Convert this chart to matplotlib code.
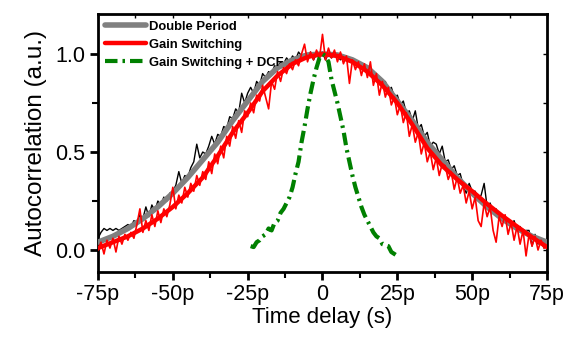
import numpy as np
import matplotlib
matplotlib.use("Agg")
import matplotlib.pyplot as plt
from matplotlib.ticker import FuncFormatter, MultipleLocator

# Autocorrelation traces (delay in ps)

X_SMOOTH = [-75, -70, -65, -60, -55, -50, -45, -40, -35, -30, -25, -20, -15, -10, -5, 0,
            5, 10, 15, 20, 25, 30, 35, 40, 45, 50, 55, 60, 65, 70, 75]
DOBLE_PERIODO = [0.04, 0.07, 0.11, 0.16, 0.22, 0.29, 0.37, 0.46, 0.55, 0.66, 0.76, 0.86, 0.93, 0.97, 0.995, 1.0,
                 0.995, 0.97, 0.93, 0.86, 0.76, 0.66, 0.55, 0.46, 0.37, 0.29, 0.22, 0.16, 0.11, 0.07, 0.04]
GAIN_SW_AJUSTE = [0.01, 0.04, 0.07, 0.11, 0.16, 0.22, 0.29, 0.37, 0.48, 0.60, 0.70, 0.81, 0.89, 0.95, 0.985, 1.0,
                  0.99, 0.96, 0.91, 0.84, 0.75, 0.64, 0.52, 0.43, 0.36, 0.30, 0.235, 0.175, 0.12, 0.065, 0.015]

X_RUIDO = list(range(-75, 76))
NEGRO_MEDIDO = [
    0.06, 0.09, 0.11, 0.10, 0.11, 0.10, 0.11, 0.10, 0.11, 0.12,
    0.13, 0.12, 0.15, 0.14, 0.18, 0.16, 0.22, 0.17, 0.23, 0.20,
    0.25, 0.23, 0.27, 0.25, 0.29, 0.30, 0.33, 0.40, 0.34, 0.38,
    0.37, 0.42, 0.45, 0.54, 0.47, 0.50, 0.49, 0.53, 0.58, 0.54,
    0.59, 0.58, 0.63, 0.62, 0.68, 0.67, 0.72, 0.70, 0.80, 0.75,
    0.80, 0.83, 0.80, 0.86, 0.84, 0.90, 0.88, 0.91, 0.90, 0.94,
    0.93, 0.96, 0.95, 0.98, 0.96, 0.99, 0.97, 1.01, 0.99, 1.00,
    0.98, 1.01, 0.97, 1.00, 0.98, 1.01, 0.97, 1.00, 0.98, 1.00,
    0.99, 0.97, 0.99, 0.97, 0.98, 0.96, 0.97, 0.94, 0.95, 0.92,
    0.94, 0.90, 0.91, 0.88, 0.87, 0.85, 0.86, 0.81, 0.83, 0.78,
    0.79, 0.74, 0.76, 0.70, 0.71, 0.66, 0.71, 0.62, 0.64, 0.58,
    0.60, 0.53, 0.55, 0.54, 0.49, 0.53, 0.45, 0.46, 0.41, 0.43,
    0.38, 0.39, 0.33, 0.29, 0.34, 0.30, 0.30, 0.26, 0.28, 0.34,
    0.22, 0.24, 0.19, 0.21, 0.16, 0.18, 0.14, 0.16, 0.12, 0.15,
    0.10, 0.12, 0.08, 0.10, 0.10, 0.02, 0.08, 0.03, 0.05, 0.01,
    0.03,
]
ROJO_MEDIDO = [
    0.00, 0.04, -0.02, 0.05, 0.01, 0.06, -0.01, 0.07, 0.03, 0.08,
    0.05, 0.09, 0.06, 0.13, 0.21, 0.09, 0.15, 0.10, 0.18, 0.12,
    0.20, 0.14, 0.21, 0.17, 0.23, 0.32, 0.21, 0.28, 0.24, 0.32,
    0.27, 0.34, 0.30, 0.38, 0.33, 0.40, 0.36, 0.45, 0.39, 0.49,
    0.44, 0.53, 0.47, 0.58, 0.53, 0.63, 0.57, 0.66, 0.60, 0.71,
    0.68, 0.75, 0.70, 0.79, 0.76, 0.84, 0.78, 0.72, 0.86, 0.82,
    0.91, 0.86, 0.93, 0.90, 0.95, 0.92, 0.97, 0.94, 1.00, 1.05,
    0.96, 1.01, 0.97, 1.02, 0.98, 1.10, 0.97, 1.03, 0.98, 1.02,
    0.96, 1.01, 0.95, 0.99, 0.85, 0.97, 0.92, 0.96, 0.89, 0.95,
    0.88, 0.96, 0.84, 0.90, 0.79, 0.86, 0.78, 0.83, 0.74, 0.78,
    0.69, 0.74, 0.65, 0.70, 0.58, 0.64, 0.55, 0.60, 0.49, 0.55,
    0.45, 0.50, 0.41, 0.47, 0.38, 0.44, 0.43, 0.36, 0.40, 0.31,
    0.37, 0.29, 0.33, 0.24, 0.30, 0.21, 0.27, 0.15, 0.12, 0.24,
    0.17, 0.22, 0.10, 0.04, 0.17, 0.12, 0.18, 0.08, 0.14, 0.05,
    0.12, 0.03, 0.10, -0.03, 0.08, 0.02, 0.07, 0.00, 0.05, 0.01,
    0.02,
]

X_DCF = list(range(-24, 26))
GAIN_SW_DCF = [
    0.02, 0.015, 0.04, 0.05, 0.07, 0.08, 0.11, 0.10, 0.14, 0.15,
    0.19, 0.21, 0.24, 0.27, 0.32, 0.39, 0.45, 0.55, 0.63, 0.72,
    0.80, 0.87, 0.93, 0.98, 1.00, 0.99, 0.96, 0.87, 0.81, 0.75,
    0.68, 0.61, 0.52, 0.45, 0.38, 0.32, 0.27, 0.22, 0.18, 0.15,
    0.12, 0.09, 0.07, 0.06, 0.03, 0.025, 0.02, -0.01, -0.02, -0.03,
]

plt.rcParams['font.family'] = ['Liberation Sans', 'DejaVu Sans']

fig = plt.figure(figsize=(5.72, 3.37), dpi=100)
ax = fig.add_axes([0.1713, 0.1929, 0.785, 0.7656])

ax.plot(X_RUIDO, NEGRO_MEDIDO, color='black', lw=1.0, zorder=2)
ax.plot(X_SMOOTH, DOBLE_PERIODO, color='#808080', lw=4.0, solid_capstyle='round',
        label='Double Period', zorder=3)
ax.plot(X_RUIDO, ROJO_MEDIDO, color='red', lw=1.2, zorder=4)
ax.plot(X_SMOOTH, GAIN_SW_AJUSTE, color='red', lw=3.2, solid_capstyle='round',
        label='Gain Switching', zorder=5)
ax.plot(X_DCF, GAIN_SW_DCF, color='#008000', lw=3.0, linestyle=(0, (3, 1.2, 0.6, 1.2)),
        label='Gain Switching + DCF', zorder=6)

ax.set_xlim(-75, 75)
ax.set_ylim(-0.112, 1.204)
ax.xaxis.set_major_locator(MultipleLocator(25))
ax.xaxis.set_minor_locator(MultipleLocator(12.5))
ax.yaxis.set_major_locator(MultipleLocator(0.5))
ax.yaxis.set_minor_locator(MultipleLocator(0.25))
ax.xaxis.set_major_formatter(FuncFormatter(lambda v, p: '0' if abs(v) < 1e-9 else f'{int(round(v))}p'))
ax.yaxis.set_major_formatter(FuncFormatter(lambda v, p: f'{v:.1f}'))

for lado in ax.spines.values():
    lado.set_linewidth(2.0)
ax.tick_params(which='major', direction='out', length=6, width=2, labelsize=15.5, pad=3)
ax.tick_params(which='minor', direction='out', length=4, width=1.5)

arriba = ax.secondary_xaxis('top')
arriba.xaxis.set_major_locator(MultipleLocator(25))
arriba.xaxis.set_minor_locator(MultipleLocator(12.5))
arriba.tick_params(which='both', direction='in', length=3, width=1, labeltop=False)
derecha = ax.secondary_yaxis('right')
derecha.yaxis.set_major_locator(MultipleLocator(0.5))
derecha.yaxis.set_minor_locator(MultipleLocator(0.25))
derecha.tick_params(which='both', direction='in', length=3, width=1, labelright=False)

ax.set_xlabel('Time delay (s)', fontsize=16, labelpad=1)
ax.set_ylabel('Autocorrelation (a.u.)', fontsize=17.5, labelpad=6)

ley = ax.legend(loc='upper left', frameon=False, prop={'size': 9.4, 'weight': 'bold'},
                handlelength=3.2, handletextpad=0.2, labelspacing=0.45,
                borderaxespad=0.2, borderpad=0.3)

plt.savefig('out.png', dpi=100)
plt.close()
